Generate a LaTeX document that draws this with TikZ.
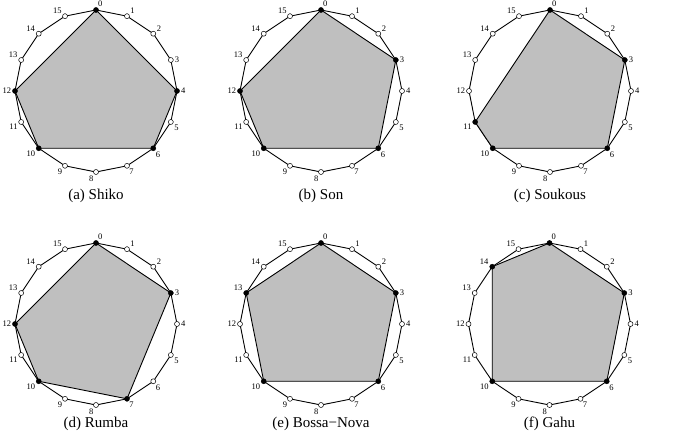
\documentclass[tikz,border=0pt]{standalone}
\usepackage{fontspec}
\setmainfont{Liberation Serif}
\definecolor{polygray}{gray}{0.75}
\begin{document}
\begin{tikzpicture}[x=1pt,y=1pt,line width=0.9pt,
    every label/.style={font=\fontsize{8.5}{9}\selectfont,inner sep=0.5pt},
    label distance=0.3pt]
    \tikzstyle{beat}=[circle,draw,minimum size=5pt,inner sep=0pt,line width=0.5pt]
    \tikzstyle{necklace}=[fill=polygray,draw=black,line join=round]
    \tikzstyle{caption}=[font=\fontsize{15}{16}\selectfont,inner sep=0pt]

    \useasboundingbox (0,0) rectangle (690,438);

    \foreach \tag/\cx/\cy/\ty/\rest/\title in {
        a/96/347/242/{4,6,10,12}/Shiko,
        b/321/347/242/{3,6,10,12}/Son,
        c/550/347/242/{3,6,10,11}/Soukous,
        d/96/114/14/{3,7,10,12}/Rumba,
        e/321/114/14/{3,6,10,13}/Bossa−Nova,
        f/549.5/114/14/{3,6,10,14}/Gahu}
    {
      % points of the wheel
      \foreach \i in {0,...,15}
        \path (\cx,\cy) ++(90-\i*22.5:81) coordinate (\tag-\i);

      % the 16-gon
      \draw (\tag-0) \foreach \i in {1,...,15}{ -- (\tag-\i)} -- cycle;

      % the rhythm polygon
      \draw[necklace] (\tag-0) \foreach \k in \rest { -- (\tag-\k)} -- cycle;

      % pulses, onsets in black
      \foreach \i/\a in {0/65,1/40,2/28,3/0,4/0,5/-30,6/-55,7/-60,8/-125,9/-132,10/-150,11/-152,12/180,13/160,14/160,15/145}
      {
        \gdef\tone{white}
        \ifnum\i=0 \gdef\tone{black}\fi
        \foreach \k in \rest {\ifnum\k=\i \gdef\tone{black}\fi}
        \node[beat,fill=\tone,label={\a:\i}] (\tag-b\i) at (\tag-\i) {};
      }

      \node[caption] (\tag-cap) at (\cx,\ty) {(\tag) \title};
    }
\end{tikzpicture}
\end{document}
